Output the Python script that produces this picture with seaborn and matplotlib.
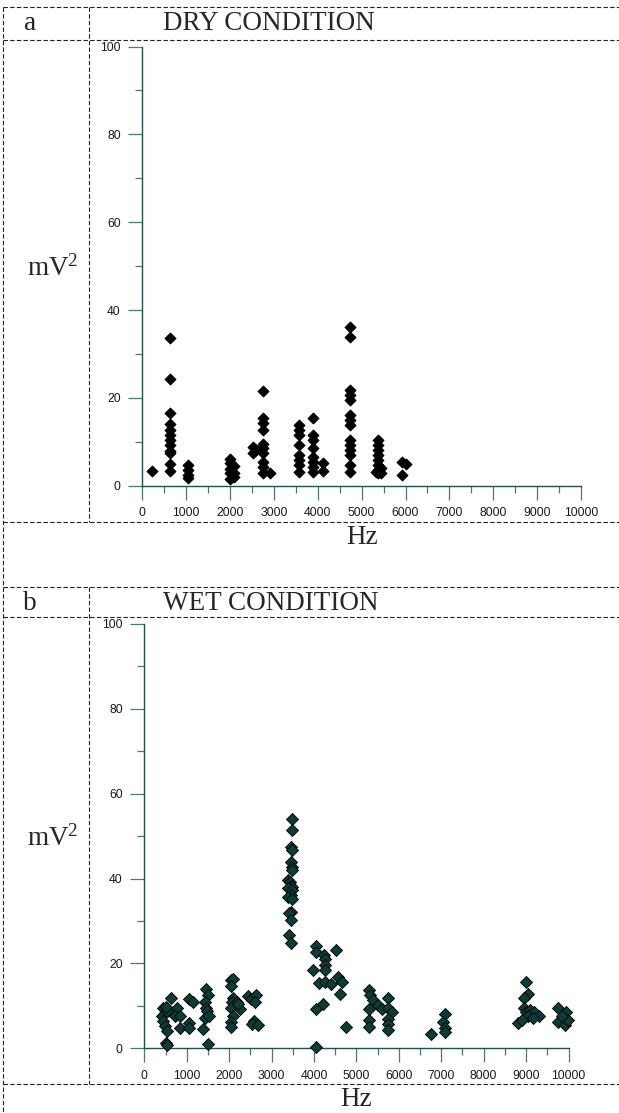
import matplotlib
matplotlib.use("Agg")
import matplotlib.pyplot as plt
from matplotlib.lines import Line2D
from matplotlib.ticker import MultipleLocator
import seaborn as sns
import pandas as pd

# ---------------- data ----------------
dry_hz = [220,
          640, 640, 640, 640, 640, 640, 640, 640, 640, 640, 640, 640,
          1050, 1050, 1050, 1050,
          2000, 2000, 2000, 2000, 2000, 2100, 2100, 2100,
          2530, 2530, 2600,
          2740, 2740, 2740, 2740, 2740, 2740, 2740, 2740, 2740, 2740,
          2910,
          3580, 3580, 3580, 3580, 3580, 3580, 3580, 3580,
          3900, 3900, 3900, 3900, 3900, 3900, 3900, 3900,
          4130, 4130,
          4730, 4730, 4730, 4730, 4730, 4730, 4730, 4730, 4730, 4730, 4730, 4730, 4730, 4730,
          5380, 5380, 5380, 5380, 5380, 5380, 5380, 5380, 5330, 5450, 5450,
          5910, 5910, 6000]
dry_mv2 = [3.3,
           33.7, 24.2, 16.6, 14.0, 12.7, 11.5, 10.4, 9.2, 7.9, 7.4, 4.9, 3.3,
           4.8, 3.5, 2.5, 1.8,
           6.0, 5.1, 3.9, 2.8, 1.5, 4.5, 3.0, 2.0,
           8.9, 7.5, 8.2,
           21.5, 15.5, 14.2, 12.7, 9.6, 8.5, 7.4, 5.5, 4.3, 2.8,
           3.0,
           13.8, 12.7, 11.5, 9.2, 7.0, 5.8, 4.7, 3.2,
           15.5, 11.5, 10.4, 8.5, 6.6, 5.5, 4.3, 3.2,
           5.1, 3.4,
           36.1, 33.9, 21.8, 20.6, 19.5, 16.1, 14.9, 13.8, 10.4, 9.2, 8.1, 7.0, 4.7, 3.2,
           10.4, 9.2, 8.1, 7.0, 5.8, 4.7, 3.6, 2.8, 3.2, 4.0, 3.0,
           5.5, 2.4, 5.0]

wet_hz = [512, 540, 448, 487, 410, 448, 487, 527, 527, 512,
          630, 764, 724, 842, 842,
          1061, 1155, 1061, 1061,
          1455, 1510, 1431, 1455, 1471, 1431, 1534, 1384, 1510,
          2037, 2100, 2037, 2100, 2060, 2178, 2045, 2257, 2100, 2037, 2037, 2218,
          2453, 2508, 2633, 2610, 2586, 2540, 2689,
          3476, 3476, 3460, 3476, 3460, 3476, 3476, 3380, 3440, 3459, 3476,
          3380, 3476, 3452, 3380, 3476, 3460, 3405, 3460, 3405, 3459,
          4050, 4050, 4246, 4262, 4262, 4514, 3987, 4262, 4120, 4262, 4395,
          4576, 4655, 4616, 4050, 4207, 4757, 4050,
          5300, 5323, 5402, 5520, 5598, 5300, 5300, 5300, 5740, 5756, 5835, 5740, 5756, 5740,
          6755, 7092, 7052, 7092, 7092,
          9002, 9057, 8940, 8940, 9002, 9096, 9198, 9293, 9057, 9159, 8819, 8900,
          9741, 9950, 9741, 9920, 9980, 9843]
wet_mv2 = [1.2, 0.7, 9.4, 8.3, 7.5, 6.4, 5.2, 4.1, 8.7, 9.8,
           11.8, 9.4, 7.5, 7.5, 4.7,
           11.6, 10.8, 5.9, 4.7,
           14.0, 12.6, 11.0, 9.4, 8.7, 7.1, 7.5, 4.5, 1.1,
           16.1, 16.3, 14.6, 11.8, 10.8, 10.8, 9.6, 9.3, 7.7, 6.3, 5.1, 10.4,
           12.3, 11.7, 12.5, 10.8, 6.4, 5.8, 5.5,
           54.0, 51.4, 47.5, 46.7, 44.0, 42.8, 42.0, 39.7, 39.3, 38.3, 38.1,
           37.7, 37.3, 36.1, 35.7, 35.3, 32.2, 31.8, 30.2, 26.7, 24.8,
           24.2, 22.6, 22.0, 21.0, 19.6, 23.2, 18.5, 18.5, 15.3, 15.7, 15.1,
           16.7, 15.7, 12.8, 9.3, 10.4, 5.1, 0.4,
           13.7, 12.6, 11.4, 10.1, 9.2, 9.2, 6.7, 5.1, 11.8, 9.6, 8.6, 7.0, 5.7, 4.2,
           3.4, 8.0, 6.3, 4.8, 3.9,
           15.6, 12.8, 11.8, 9.4, 8.6, 9.0, 8.6, 7.6, 7.5, 7.1, 5.9, 6.7,
           9.4, 8.6, 6.3, 5.5, 6.7, 7.5]

panel_letters = ["a", "b"]
panel_titles = ["DRY CONDITION", "WET CONDITION"]
y_label = r"mV$^{2}$"
x_label = "Hz"
x_ticks = list(range(0, 10001, 1000))
y_ticks = list(range(0, 101, 20))

dry_df = pd.DataFrame({"Hz": dry_hz, "mV2": dry_mv2})
wet_df = pd.DataFrame({"Hz": wet_hz, "mV2": wet_mv2})

# ---------------- figure ----------------
sns.set_style("white")
plt.rcParams["font.family"] = ["Liberation Sans", "DejaVu Sans"]
plt.rcParams["mathtext.fontset"] = "custom"
plt.rcParams["mathtext.rm"] = "Liberation Serif"
plt.rcParams["mathtext.it"] = "Liberation Serif"
plt.rcParams["mathtext.default"] = "rm"

W, H = 619, 1113
fig = plt.figure(figsize=(W / 100, H / 100), dpi=100)


def fx(px):
    return px / W


def fy(py):
    return 1 - py / H


spine_col = "#24504c"
tick_col = "#4f7773"

# axes rectangles in pixels: (left x, right x, y of value 0, y of value 100)
rects = [(142.3, 581.0, 485.7, 46.5), (144.3, 568.5, 1048.3, 624.0)]
dfs = [dry_df, wet_df]
face = ["#000000", "#0d3b38"]
sizes = [32, 38]

for i, (l, r, y0, y100) in enumerate(rects):
    ax = fig.add_axes([fx(l), fy(y0), (r - l) / W, (y0 - y100) / H])
    sns.scatterplot(data=dfs[i], x="Hz", y="mV2", ax=ax, marker="D",
                    color=face[i], s=sizes[i], edgecolor="black",
                    linewidth=0.6, clip_on=False, zorder=3, legend=False)
    ax.set_xlim(0, 10000)
    ax.set_ylim(0, 100)
    ax.set_xlabel("")
    ax.set_ylabel("")
    ax.set_xticks(x_ticks)
    ax.set_yticks(y_ticks)
    ax.xaxis.set_minor_locator(MultipleLocator(500))
    ax.yaxis.set_minor_locator(MultipleLocator(10))
    for s in ["top", "right"]:
        ax.spines[s].set_visible(False)
    for s in ["left", "bottom"]:
        ax.spines[s].set_color(spine_col)
        ax.spines[s].set_linewidth(1.0)
    ax.tick_params(which="major", direction="out", length=10, width=0.9,
                   color=tick_col, labelsize=8.8, labelcolor="#1a1a1a", pad=5.5,
                   bottom=True, left=True)
    ax.tick_params(which="minor", direction="out", length=5, width=0.9,
                   color=tick_col, bottom=True, left=True)
    ax.set_facecolor("none")
    ax.grid(False)

# ---------------- table frame (dashed) ----------------
dash = dict(color="#222222", linewidth=0.8, linestyle=(0, (4, 2)))


def hline(y, x0=3, x1=619):
    fig.add_artist(Line2D([fx(x0), fx(x1)], [fy(y), fy(y)], **dash))


def vline(x, y0, y1):
    fig.add_artist(Line2D([fx(x), fx(x)], [fy(y0), fy(y1)], **dash))


for y in [7, 40, 522, 587, 617, 1084]:
    hline(y)
vline(3, 7, 1113)
vline(89, 7, 522)
vline(89, 587, 1084)

serif = ["Liberation Serif", "DejaVu Serif"]
tsize = 19.5

header_y = [24, 603]
label_y = [268, 838]
hz_pos = [(362, 538), (356, 1100)]
for i in range(2):
    fig.text(fx(30), fy(header_y[i]), panel_letters[i], family=serif,
             fontsize=tsize, ha="center", va="center")
    fig.text(fx(163), fy(header_y[i]), panel_titles[i], family=serif,
             fontsize=tsize, ha="left", va="center")
    fig.text(fx(53), fy(label_y[i]), y_label, family=serif,
             fontsize=tsize, ha="center", va="center")
    fig.text(fx(hz_pos[i][0]), fy(hz_pos[i][1]), x_label, family=serif,
             fontsize=tsize, ha="center", va="center")

fig.savefig("out.png", dpi=100, facecolor="white")
